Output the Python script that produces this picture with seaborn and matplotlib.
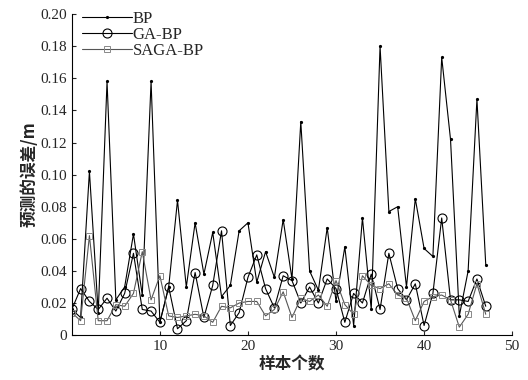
import numpy as np
import pandas as pd
import seaborn as sns
import matplotlib.pyplot as plt

# 样本序号与三种模型的预测误差 (m)
sample_idx = list(range(48))
bp_err = [0.016, 0.011, 0.102, 0.014, 0.158, 0.022, 0.030, 0.063, 0.025, 0.158,
          0.008, 0.030, 0.084, 0.030, 0.070, 0.038, 0.064, 0.024, 0.031, 0.065,
          0.070, 0.033, 0.052, 0.036, 0.072, 0.035, 0.133, 0.040, 0.028, 0.067,
          0.021, 0.055, 0.006, 0.073, 0.016, 0.180, 0.077, 0.080, 0.030, 0.085,
          0.054, 0.049, 0.173, 0.122, 0.012, 0.040, 0.147, 0.044]
ga_bp_err = [0.016, 0.029, 0.021, 0.016, 0.023, 0.015, 0.026, 0.051, 0.016, 0.015,
             0.008, 0.030, 0.004, 0.009, 0.039, 0.011, 0.031, 0.065, 0.006, 0.014,
             0.036, 0.050, 0.029, 0.017, 0.037, 0.034, 0.020, 0.030, 0.020, 0.035,
             0.029, 0.008, 0.026, 0.020, 0.038, 0.016, 0.051, 0.029, 0.022, 0.032,
             0.006, 0.026, 0.073, 0.022, 0.022, 0.021, 0.035, 0.018]
saga_bp_err = [0.014, 0.009, 0.062, 0.009, 0.009, 0.019, 0.018, 0.026, 0.052, 0.022,
               0.037, 0.012, 0.011, 0.012, 0.013, 0.012, 0.008, 0.018, 0.017, 0.020,
               0.021, 0.021, 0.012, 0.016, 0.027, 0.011, 0.023, 0.021, 0.025, 0.018,
               0.034, 0.019, 0.013, 0.037, 0.031, 0.029, 0.032, 0.025, 0.023, 0.009,
               0.021, 0.024, 0.025, 0.022, 0.005, 0.013, 0.032, 0.013]

x_ticks = [10, 20, 30, 40, 50]
y_ticks = [0, 0.02, 0.04, 0.06, 0.08, 0.10, 0.12, 0.14, 0.16, 0.18, 0.20]
y_tick_labels = ["0", "0.02", "0.04", "0.06", "0.08", "0.10", "0.12", "0.14", "0.16", "0.18", "0.20"]

sns.set_style("ticks")
plt.rcParams['font.family'] = ['Liberation Serif', 'Noto Sans CJK SC']

fig = plt.figure(figsize=(5.28, 3.80), dpi=100)
ax = fig.add_axes([0.136, 0.118, 0.834, 0.845])

# BP: 小黑点
sns.lineplot(x=sample_idx, y=bp_err, ax=ax, color="black", linewidth=0.8,
             marker="o", markersize=2.3, markeredgewidth=0, label="BP")
# GA-BP: 空心圆
sns.lineplot(x=sample_idx, y=ga_bp_err, ax=ax, color="black", linewidth=0.8,
             marker="o", markersize=6.5, markerfacecolor="none",
             markeredgecolor="black", markeredgewidth=0.8, label="GA-BP")
# SAGA-BP: 灰色空心方块
sns.lineplot(x=sample_idx, y=saga_bp_err, ax=ax, color="#555555", linewidth=0.8,
             marker="s", markersize=4.5, markerfacecolor="none",
             markeredgecolor="#888888", markeredgewidth=0.7, label="SAGA-BP")

ax.set_xlim(0, 50)
ax.set_ylim(0, 0.20)
ax.set_xticks(x_ticks)
ax.set_yticks(y_ticks)
ax.set_yticklabels(y_tick_labels)
ax.tick_params(direction="in", length=3, labelsize=11, width=0.8)
sns.despine(ax=ax, top=True, right=True)
for s in ["left", "bottom"]:
    ax.spines[s].set_linewidth(0.8)
    ax.spines[s].set_color("black")

ax.set_xlabel("样本个数", fontsize=12, fontweight="bold",
              family=["Noto Sans CJK SC", "DejaVu Sans"], labelpad=2)
ax.set_ylabel("预测的误差/m", fontsize=12, fontweight="bold",
              family=["Noto Sans CJK SC", "DejaVu Sans"], labelpad=1)

ax.legend(loc="upper left", bbox_to_anchor=(0.0, 1.04), frameon=False,
          fontsize=12, handlelength=3.0, handletextpad=0.05,
          labelspacing=0.0, borderaxespad=0.2)

plt.savefig("out.png", dpi=100)
plt.close()
